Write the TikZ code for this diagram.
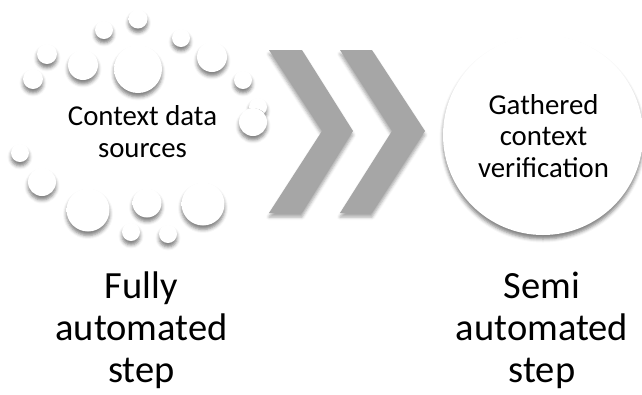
\documentclass[tikz,border=0pt]{standalone}
\usepackage{fontspec}
\setmainfont{Carlito}
\usetikzlibrary{shadows.blur}
\pgfdeclareradialshading{bubbleshade}{\pgfpoint{0bp}{14bp}}{%
  color(0bp)=(white); color(36bp)=(white); color(50bp)=(black!8); color(64bp)=(black!30)}
\tikzset{
  bubble/.style={circle, inner sep=0pt, shading=bubbleshade, draw=none,
    blur shadow={shadow xshift=0bp, shadow yshift=-4bp, shadow blur radius=3.5bp, shadow opacity=50}},
  chev/.style={fill=black!35, draw=none,
    blur shadow={shadow xshift=0bp, shadow yshift=-4bp, shadow blur radius=3bp, shadow opacity=35}},
  smalltxt/.style={align=center, anchor=base, font=\fontsize{28.8bp}{31.5bp}\selectfont},
  bigtxt/.style={align=center, anchor=base, font=\fontsize{38.5bp}{42bp}\selectfont}
}
\begin{document}
\begin{tikzpicture}[x=1bp, y=-1bp]
\useasboundingbox (0,0) rectangle (642,394);
% bubbles
\node[bubble, minimum size=48bp] (b1) at (138,69) {};
\node[bubble, minimum size=19bp] (b2) at (138,19) {};
\node[bubble, minimum size=18bp] (b3) at (104,30) {};
\node[bubble, minimum size=18bp] (b4) at (181,38) {};
\node[bubble, minimum size=30bp] (b5) at (83,65) {};
\node[bubble, minimum size=20bp] (b6) at (47,54) {};
\node[bubble, minimum size=20bp] (b7) at (33,79) {};
\node[bubble, minimum size=30bp] (b8) at (212,57) {};
\node[bubble, minimum size=18bp] (b9) at (243,80) {};
\node[bubble, minimum size=18bp] (b10) at (258,107) {};
\node[bubble, minimum size=28bp] (b11) at (253,122) {};
\node[bubble, minimum size=18bp] (b12) at (20,153) {};
\node[bubble, minimum size=28bp] (b13) at (42,182) {};
\node[bubble, minimum size=43bp] (b14) at (88,210) {};
\node[bubble, minimum size=29bp] (b15) at (147,203) {};
\node[bubble, minimum size=43bp] (b16) at (203,204) {};
\node[bubble, minimum size=18bp] (b17) at (131,232) {};
\node[bubble, minimum size=18bp] (b18) at (168,234) {};
% chevrons
\fill[chev] (269,50) -- (302,50) -- (353,131) -- (302,213) -- (269,213) -- (322,131) -- cycle;
\fill[chev] (340,50) -- (372,50) -- (425,131) -- (372,213) -- (340,213) -- (392,131) -- cycle;
% big circle
\node[bubble, minimum size=200bp] (gc) at (543,135) {};
% texts (anchored at the baseline of the last line)
\node[smalltxt] (ctx) at (142.5,157) {Context data\\sources};
\node[smalltxt] (gcv) at (543.5,177) {Gathered\\context\\verification};
\node[bigtxt] (fully) at (141.5,382) {Fully\\automated\\step};
\node[bigtxt] (semi) at (542,382) {Semi\\automated\\step};
\end{tikzpicture}
\end{document}
